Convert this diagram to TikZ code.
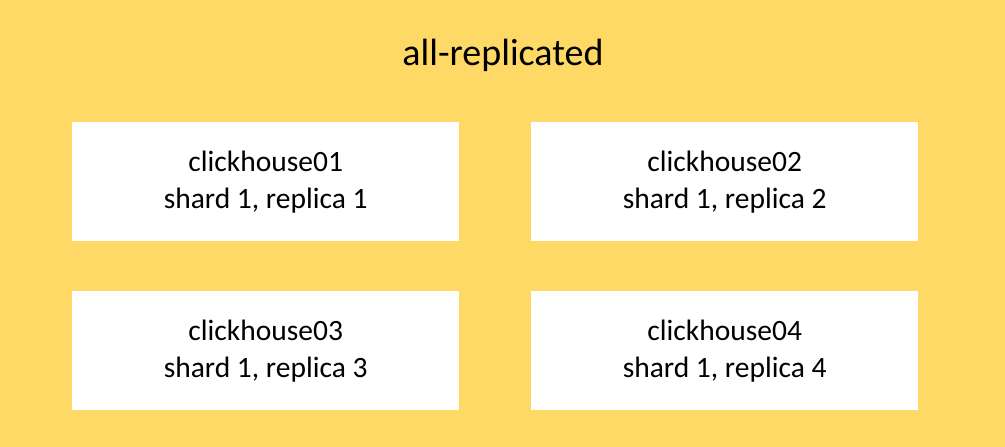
\documentclass[tikz,border=0pt]{standalone}
\usepackage{fontspec}
\setmainfont{Carlito}
\definecolor{bgyellow}{HTML}{FFD966}
\begin{document}
\begin{tikzpicture}[x=1pt,y=-1pt,
  hostbox/.style={fill=white,draw=none,minimum width=387pt,minimum height=119pt,
    inner sep=0pt,align=center,font=\fontsize{29.5}{37}\selectfont,anchor=north west}]
\fill[bgyellow] (0,0) rectangle (1005,447);
\useasboundingbox (0,0) rectangle (1005,447);
\node[font=\fontsize{38}{44}\selectfont] (title) at (503,55) {all-replicated};
\node[hostbox] (h1) at (72,122) {clickhouse01\\shard 1, replica 1};
\node[hostbox] (h2) at (531,122) {clickhouse02\\shard 1, replica 2};
\node[hostbox] (h3) at (72,291) {clickhouse03\\shard 1, replica 3};
\node[hostbox] (h4) at (531,291) {clickhouse04\\shard 1, replica 4};
\end{tikzpicture}
\end{document}
